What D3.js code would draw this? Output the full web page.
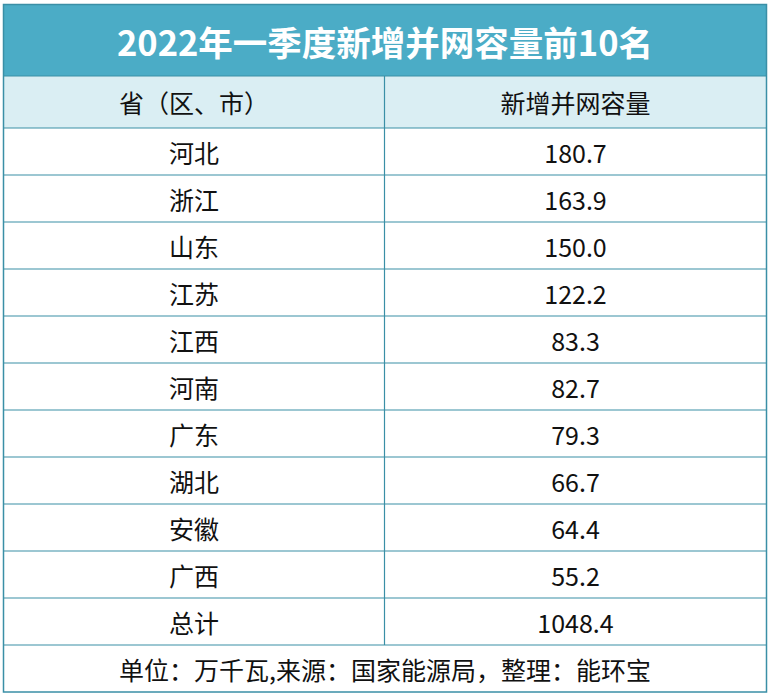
<!DOCTYPE html><html><head><meta charset="utf-8"><script src="https://cdn.jsdelivr.net/npm/d3@7"></script>
<style>body{margin:0;background:#fff}</style></head><body><svg id="c" width="770" height="698"></svg><script>
const title="2022年一季度新增并网容量前10名";
const headers=["省（区、市）","新增并网容量"];
const provinces=["河北","浙江","山东","江苏","江西","河南","广东","湖北","安徽","广西","总计"];
const values=["180.7","163.9","150.0","122.2","83.3","82.7","79.3","66.7","64.4","55.2","1048.4"];
const footer="单位：万千瓦,来源：国家能源局，整理：能环宝";
const svg=d3.select("#c");
const L=3.5,R=766.5,M=384.5,font="'Noto Sans CJK SC','Noto Sans',sans-serif",bc="#3a8fa6";
const y=d3.scaleLinear().domain([0,11]).range([128,645]);
svg.append("rect").attr("x",L).attr("y",4.5).attr("width",R-L).attr("height",71.5).attr("fill","#4BACC6");
svg.append("rect").attr("x",L).attr("y",76).attr("width",R-L).attr("height",52).attr("fill","#DAEEF3");
svg.append("text").attr("x",(L+R)/2).attr("y",41).attr("text-anchor","middle").attr("dominant-baseline","central").attr("fill","#fff").attr("font-weight","bold").attr("font-size",34.5).attr("font-family",font).text(title);
const t=(x,yy,s)=>svg.append("text").attr("x",x).attr("y",yy).attr("text-anchor","middle").attr("dominant-baseline","central").attr("font-size",25).attr("fill","#111").attr("font-family",font).text(s);
t((L+M)/2,102,headers[0]);t((M+R)/2,102,headers[1]);
provinces.forEach((p,i)=>{const c=(y(i)+y(i+1))/2;t((L+M)/2,c,p);t((M+R)/2,c,values[i]);});
t((L+R)/2,668.5,footer);
const line=(x1,y1,x2,y2)=>svg.append("line").attr("x1",x1).attr("y1",y1).attr("x2",x2).attr("y2",y2).attr("stroke",bc).attr("stroke-width",1.2);
[76,128].concat(d3.range(1,12).map(y)).forEach(v=>line(L,v,R,v));
line(M,76,M,645);
svg.append("rect").attr("x",L).attr("y",4.5).attr("width",R-L).attr("height",687.5).attr("fill","none").attr("stroke",bc).attr("stroke-width",1.5);
</script></body></html>
